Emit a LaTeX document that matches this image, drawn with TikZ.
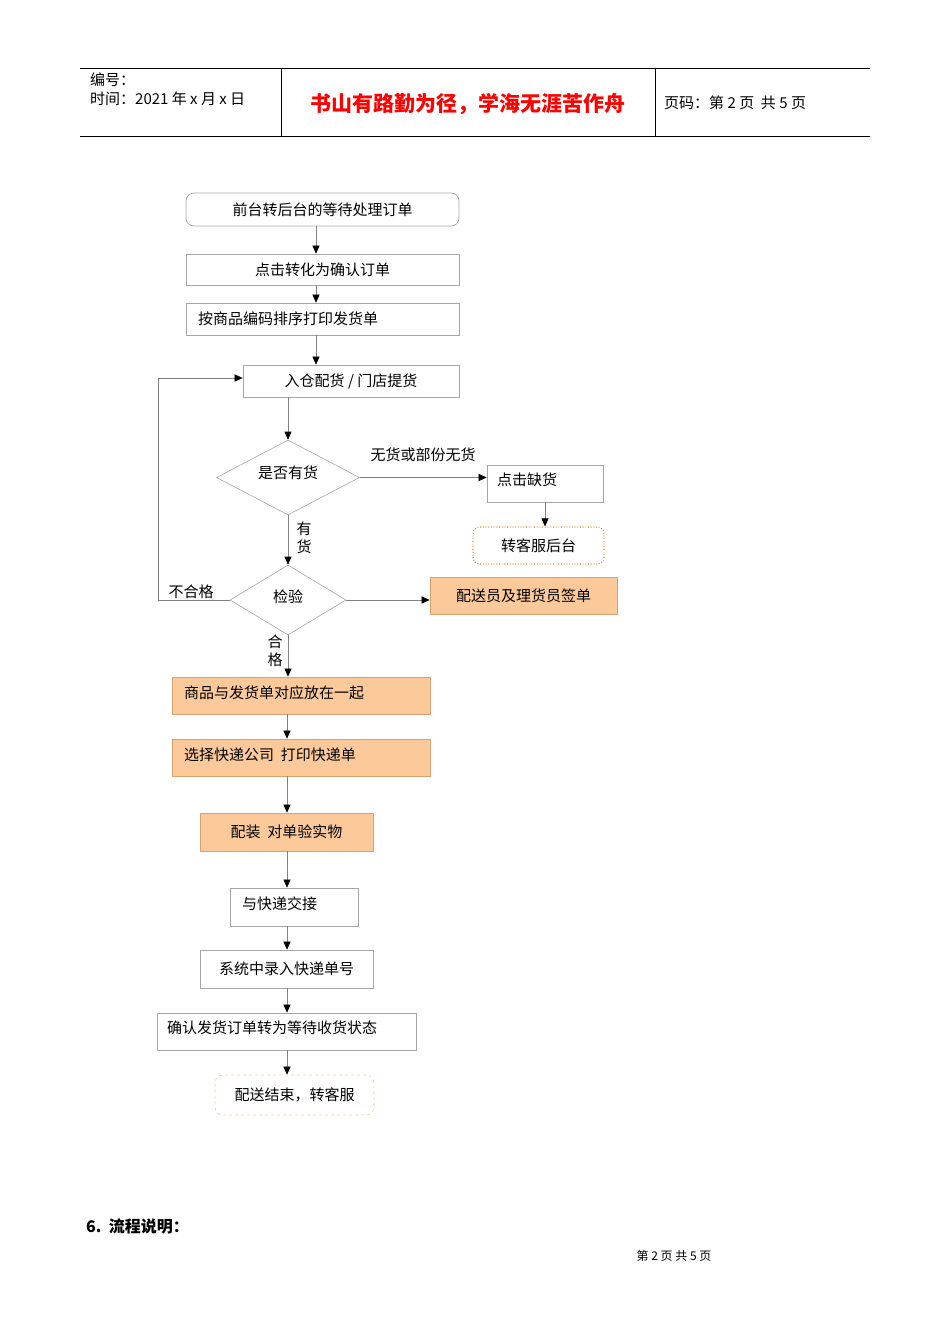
\documentclass[tikz,border=0pt]{standalone}
\usepackage{fontspec}
\setmainfont{Noto Sans CJK SC}
\usetikzlibrary{arrows.meta,shapes.geometric}
\definecolor{bx}{HTML}{A6A6A6}
\definecolor{org}{HTML}{FCC99A}
\definecolor{orgd}{HTML}{D9A070}
\begin{document}
\begin{tikzpicture}[x=1pt,y=-1pt,
 box/.style={draw=bx,line width=0.7pt,font=\fontsize{15}{17}\selectfont,inner sep=0pt},
 obox/.style={box,fill=org,draw=orgd},
 dia/.style={draw=bx,line width=0.6pt,diamond,aspect=1.9,inner sep=0pt,font=\fontsize{15}{17}\selectfont},
 arr/.style={draw=gray,line width=0.6pt,-{Triangle[width=7pt,length=8pt,fill=black,color=black]}},
 lbl/.style={font=\fontsize{15}{17}\selectfont,inner sep=0pt}]
\useasboundingbox (0,0) rectangle (950,1344);
% header
\draw[line width=0.6pt] (80,68) -- (870,68) (80,136) -- (870,136) (281,68) -- (281,136) (655,68) -- (655,136);
\node[lbl,anchor=west] (h1) at (90,80) {编号：};
\node[lbl,anchor=west] (h2) at (90,99) {时间：2021 年 x 月 x 日};
\node[lbl,font=\fontsize{21}{24}\selectfont\bfseries,text=red] (h3) at (468,104) {书山有路勤为径，学海无涯苦作舟};
\node[lbl,anchor=west] (h4) at (664,103) {页码：第 2 页\ \ 共 5 页};
% nodes
\node[box,rounded corners=8pt,minimum width=273,minimum height=33] (n1) at (322.5,209.5) {前台转后台的等待处理订单};
\node[box,minimum width=273,minimum height=31] (n2) at (322.5,269.5) {点击转化为确认订单};
\node[box,minimum width=273,minimum height=32] (n3) at (322.5,319) {};
\node[lbl,anchor=west] at (198,319) {按商品编码排序打印发货单};
\node[box,minimum width=216,minimum height=32] (n4) at (351,381) {入仓配货 / 门店提货};
\node[dia,minimum width=143,minimum height=75] (d1) at (288,477.5) {};
\node[lbl] at (288,473) {是否有货};
\node[box,minimum width=116,minimum height=37] (n6) at (545,483.5) {};
\node[lbl,anchor=west] at (497,480) {点击缺货};
\node[box,draw=orange!90!black,dotted,line width=1.2pt,rounded corners=7pt,minimum width=131,minimum height=37] (n7) at (538.5,545.5) {转客服后台};
\node[dia,minimum width=116,minimum height=70] (d2) at (288,600) {};
\node[lbl] at (288,597) {检验};
\node[obox,minimum width=187,minimum height=37] (n9) at (523.5,595.5) {配送员及理货员签单};
\node[obox,minimum width=258,minimum height=37] (n10) at (301,695.5) {};
\node[lbl,anchor=west] at (184,693) {商品与发货单对应放在一起};
\node[obox,minimum width=258,minimum height=37] (n11) at (301,757.5) {};
\node[lbl,anchor=west] at (184,755) {选择快递公司\ \ 打印快递单};
\node[obox,minimum width=173,minimum height=38] (n12) at (286.5,832) {配装\ \ 对单验实物};
\node[box,minimum width=128,minimum height=38] (n13) at (294,907) {};
\node[lbl,anchor=west] at (242,904) {与快递交接};
\node[box,minimum width=173,minimum height=38] (n14) at (286.5,969) {系统中录入快递单号};
\node[box,minimum width=259,minimum height=37] (n15) at (286.5,1031.5) {};
\node[lbl,anchor=west] at (167,1028) {确认发货订单转为等待收货状态};
\node[box,draw=orange!40,dashed,rounded corners=8pt,minimum width=159,minimum height=40] (n16) at (294.5,1095) {配送结束，转客服};
% arrows
\draw[arr] (n1.south -| 316,0) -- (n2.north -| 316,0);
\draw[arr] (n2.south -| 316,0) -- (n3.north -| 316,0);
\draw[arr] (n3.south -| 316,0) -- (n4.north -| 316,0);
\draw[arr] (n4.south -| d1.north) -- (d1.north);
\draw[arr] (d1.east) -- (d1.east -| n6.west);
\node[lbl] at (423,455) {无货或部份无货};
\draw[arr] (n6.south) -- (n6.south |- n7.north);
\draw[arr] (d1.south) -- (d2.north);
\node[lbl,align=center,font=\fontsize{15}{18}\selectfont] at (304,538) {有\\货};
\coordinate (c1) at (158,600);
\coordinate (c2) at (158,378);
\draw[arr] (d2.west) -- (c1) -- (c2) -- (c2 -| n4.west);
\node[lbl] at (191,592) {不合格};
\draw[arr] (d2.east) -- (d2.east -| n9.west);
\draw[arr] (d2.south) -- (d2.south |- n10.north);
\node[lbl,align=center,font=\fontsize{15}{18}\selectfont] at (275,651) {合\\格};
\draw[arr] (n10.south -| 287,0) -- (n11.north -| 287,0);
\draw[arr] (n11.south -| 287,0) -- (n12.north -| 287,0);
\draw[arr] (n12.south -| 287,0) -- (n13.north -| 287,0);
\draw[arr] (n13.south -| 287,0) -- (n14.north -| 287,0);
\draw[arr] (n14.south -| 287,0) -- (n15.north -| 287,0);
\draw[arr] (n15.south -| 287,0) -- (n16.north -| 287,0);
% footer
\node[lbl,anchor=west,font=\fontsize{16}{19}\selectfont\bfseries] (f1) at (86,1226) {6.\ \ 流程说明：};
\node[lbl,font=\fontsize{12}{14}\selectfont] (f2) at (674,1256) {第 2 页 共 5 页};
\end{tikzpicture}
\end{document}
